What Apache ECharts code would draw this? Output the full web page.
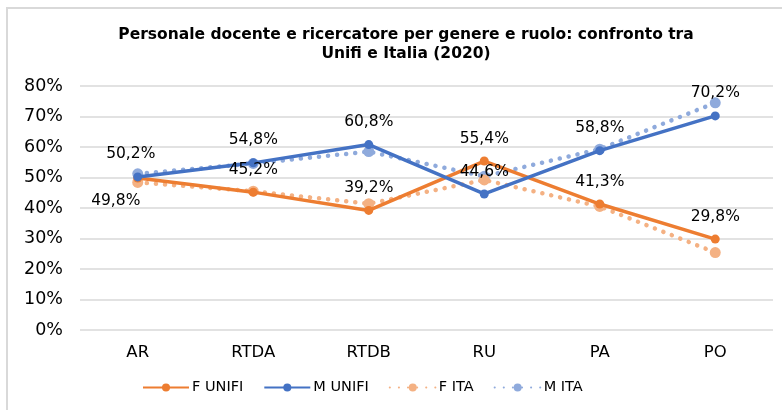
<!DOCTYPE html>
<html>
<head>
<meta charset="utf-8">
<script src="https://cdn.jsdelivr.net/npm/echarts@6/dist/echarts.min.js"></script>
<style>
  html, body { margin: 0; padding: 0; background: #fff; }
  #chart { width: 782px; height: 410px; }
</style>
</head>
<body>
<div id="chart"></div>
<script>
// ruoli e percentuali
var ruoli = ["AR", "RTDA", "RTDB", "RU", "PA", "PO"];
var fUnifi = [49.8, 45.2, 39.2, 55.4, 41.3, 29.8];
var mUnifi = [50.2, 54.8, 60.8, 44.6, 58.8, 70.2];
var fIta = [48.4, 45.5, 41.4, 49.2, 40.5, 25.4];
var mIta = [51.2, 54.6, 58.5, 50.4, 59.3, 74.5];
var yTicks = [0, 10, 20, 30, 40, 50, 60, 70, 80];

var font = "'DejaVu Sans', Verdana, sans-serif";

function pct(v) {
    return v.toFixed(1).replace(".", ",") + "%";
}

function labelled(vals, offsets) {
    return vals.map(function (v, i) {
        var o = offsets[i];
        return {
            value: v,
            label: { show: true, position: o.pos || "top", offset: o.off || [0, 0] }
        };
    });
}

var chart = echarts.init(document.getElementById("chart"));

chart.setOption({
    animation: false,
    textStyle: { fontFamily: font },
    title: {
        text: "Personale docente e ricercatore per genere e ruolo: confronto tra\nUnifi e Italia (2020)",
        left: 401,
        textAlign: "center",
        top: 20,
        textStyle: { fontFamily: font, fontSize: 15.5, fontWeight: "bold", color: "#000", lineHeight: 19 }
    },
    graphic: [{
        type: "rect",
        shape: { x: 7, y: 8, width: 800, height: 420 },
        style: { fill: "none", stroke: "#D9D9D9", lineWidth: 2 },
        silent: true
    }],
    grid: { left: 80, right: 9, top: 86, bottom: 80 },
    legend: {
        bottom: 10,
        left: 137,
        itemWidth: 46,
        itemHeight: 10,
        itemGap: 20,
        textStyle: { fontFamily: font, fontSize: 14.5, color: "#000", padding: [0, 0, 0, -2] },
        data: ["F UNIFI", "M UNIFI", "F ITA", "M ITA"]
    },
    xAxis: {
        type: "category",
        data: ruoli,
        boundaryGap: true,
        axisLine: { show: false },
        axisTick: { show: false },
        axisLabel: { fontFamily: font, fontSize: 16.5, color: "#000", margin: 14 }
    },
    yAxis: {
        type: "value",
        min: yTicks[0],
        max: yTicks[yTicks.length - 1],
        interval: 10,
        axisLine: { show: false },
        axisTick: { show: false },
        axisLabel: {
            fontFamily: font, fontSize: 17.5, color: "#000", margin: 17,
            formatter: function (v) { return v + "%"; }
        },
        splitLine: { lineStyle: { color: "#D9D9D9", width: 1.5 } }
    },
    series: [
        {
            name: "M ITA",
            type: "line",
            data: mIta,
            symbol: "circle",
            symbolSize: 11,
            z: 1,
            lineStyle: { color: "#8FAADC", width: 4.5, type: [0.1, 9], cap: "round" },
            itemStyle: { color: "#8FAADC" }
        },
        {
            name: "F ITA",
            type: "line",
            data: fIta,
            symbol: "circle",
            symbolSize: 11,
            z: 1,
            lineStyle: { color: "#F4B183", width: 4.5, type: [0.1, 9], cap: "round" },
            itemStyle: { color: "#F4B183" }
        },
        {
            name: "F UNIFI",
            type: "line",
            data: labelled(fUnifi, [
                { pos: "bottom", off: [-22, 0] },
                {}, {}, {}, {}, {}
            ]),
            symbol: "circle",
            symbolSize: 9,
            z: 3,
            lineStyle: { color: "#ED7D31", width: 3.5 },
            itemStyle: { color: "#ED7D31" },
            label: {
                distance: 10,
                fontFamily: font, fontSize: 15.5, color: "#000",
                formatter: function (p) { return pct(p.value); }
            }
        },
        {
            name: "M UNIFI",
            type: "line",
            data: labelled(mUnifi, [
                { off: [-7, 0] }, {}, {}, {}, {}, {}
            ]),
            symbol: "circle",
            symbolSize: 9,
            z: 3,
            lineStyle: { color: "#4472C4", width: 3.5 },
            itemStyle: { color: "#4472C4" },
            label: {
                distance: 10,
                fontFamily: font, fontSize: 15.5, color: "#000",
                formatter: function (p) { return pct(p.value); }
            }
        }
    ]
});
</script>
</body>
</html>
